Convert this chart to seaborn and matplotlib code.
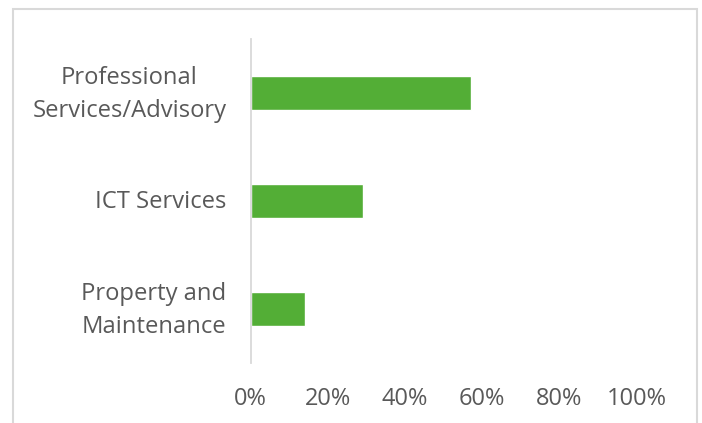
import matplotlib
matplotlib.use("Agg")
import matplotlib.pyplot as plt
import matplotlib.patches as mpatches
from matplotlib.transforms import ScaledTranslation
from matplotlib.ticker import PercentFormatter
import seaborn as sns
import pandas as pd

categories = ["Professional\nServices/Advisory", "ICT Services", "Property and\nMaintenance"]
shares = [0.57, 0.29, 0.14]
x_ticks = [0.0, 0.2, 0.4, 0.6, 0.8, 1.0]

sns.set_theme(style="white")
plt.rcParams["font.family"] = ["Open Sans", "DejaVu Sans"]

text_color = "#595959"
bar_color = "#53AE36"

df = pd.DataFrame({"category": categories, "share": shares})

fig = plt.figure(figsize=(7.02, 4.23), dpi=100)
ax = fig.add_axes([0.3571, 0.1418, 0.5499, 0.7667])

sns.barplot(data=df, x="share", y="category", orient="h", color=bar_color,
            width=0.31, saturation=1, ax=ax)

ax.set_xlim(0, 1)
ax.set_xticks(x_ticks)
ax.xaxis.set_major_formatter(PercentFormatter(1.0, decimals=0))
ax.set_xlabel("")
ax.set_ylabel("")

for side in ("top", "right", "bottom"):
    ax.spines[side].set_visible(False)
ax.spines["left"].set_color("#D9D9D9")
ax.spines["left"].set_linewidth(1.3)

ax.tick_params(axis="x", length=0, pad=17.5, labelsize=17, labelcolor=text_color)
ax.tick_params(axis="y", length=0, pad=17.5, labelsize=17.1, labelcolor=text_color)
for lbl in ax.get_yticklabels():
    lbl.set_multialignment("center")
    lbl.set_linespacing(1.5)
    lift = 6 if "\n" in lbl.get_text() else 2
    lbl.set_transform(lbl.get_transform()
                      + ScaledTranslation(0, lift / 100, fig.dpi_scale_trans))

# light frame around the chart area
frame = mpatches.Rectangle((12.5 / 702, -0.05), (697 - 12.5) / 702, 1.05 - 9 / 423,
                           transform=fig.transFigure, fill=False,
                           edgecolor="#D9D9D9", linewidth=1.5, clip_on=False)
fig.patches.append(frame)

fig.savefig("out.png", dpi=100)
